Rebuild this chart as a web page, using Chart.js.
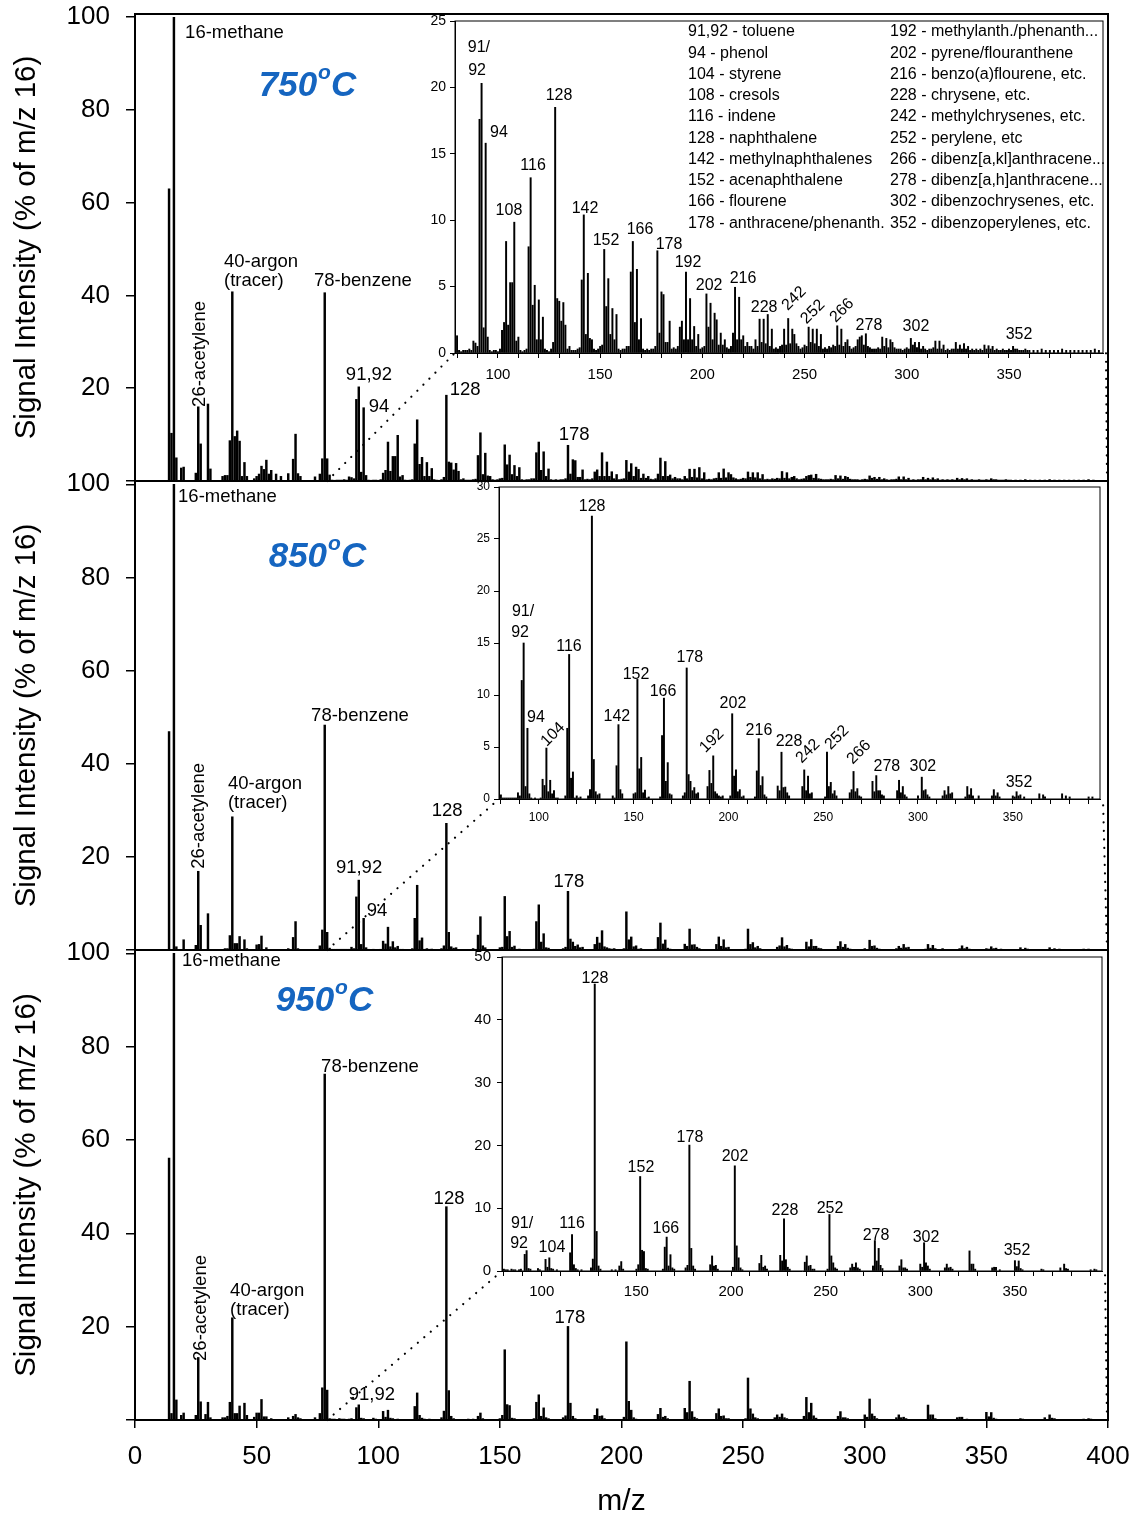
<!DOCTYPE html>
<html>
<head>
<meta charset="utf-8">
<script src="https://cdn.jsdelivr.net/npm/chart.js@4"></script>
<style>
  body { margin: 0; background: #fff; }
  #fig { position: relative; width: 1135px; height: 1521px; overflow: hidden; }
  #fig canvas { position: absolute; }
</style>
</head>
<body>
<div id="fig"></div>
<script>
// spectra: [m/z, intensity as % of m/z 16]
const spec750 = [
  [14,63],[15,10.3],[16,100],[17,5],[19,2.8],[20,3.0],[25,1.7],[26,16],[27,8],[30,16.6],[31,2.6],
  [36,1.0],[37,1.2],[38,1.2],[39,8.7],[40,40.8],[41,9.6],[42,10.8],[43,8.6],[44,1.0],[45,4.0],[46,1.0],
  [49,0.5],[50,1.0],[51,1.5],[52,3.2],[53,2.5],[54,4.5],[55,1.5],[56,2.3],[58,1.5],[60,1.0],
  [63,1.6],[65,4.7],[66,10.1],[67,1.6],[68,1.0],[74,0.9],[76,1.5],[77,4.8],[78,40.6],[79,4.8],[80,1.3],
  [81,0.2],[82,0.1],[83,0.2],[84,0.2],[85,0.2],[86,0.3],[87,0.2],[88,0.9],[89,0.75],[90,0.5],
  [91,17.6],[92,20.3],[93,1.9],[94,15.8],[95,1.2],[96,0.2],[97,0.1],[98,0.2],[99,0.2],[100,0.1],[101,0.3],
  [102,1.7],[103,2.3],[104,8.4],[105,2.1],[106,5.3],[107,5.3],[108,9.85],[109,0.9],[110,1.2],[111,0.2],[112,0.1],[113,0.2],[114,0.3],
  [115,8.0],[116,13.2],[117,3.6],[118,5.1],[119,1.0],[120,4.0],[121,1.0],[122,2.7],[123,0.3],[124,0.2],[125,0.1],[126,0.3],[127,0.8],
  [128,18.5],[129,4.1],[130,3.9],[131,2.4],[132,3.8],[133,2.1],[134,0.3],[135,0.5],[136,0.2],[137,0.2],[138,0.2],[139,0.3],[140,0.4],
  [141,5.5],[142,10.4],[143,1.4],[144,6.0],[145,1.1],[146,1.0],[147,0.3],[148,0.2],[149,0.3],[150,0.5],[151,0.6],
  [152,7.8],[153,3.5],[154,5.6],[155,1.4],[156,3.35],[157,1.0],[158,2.9],[159,0.3],[160,0.2],[161,0.3],[162,0.3],[163,0.5],[164,0.5],
  [165,6.1],[166,8.4],[167,2.3],[168,6.3],[169,1.0],[170,2.6],[171,0.3],[172,0.2],[173,0.3],[174,0.2],[175,0.3],[176,0.3],[177,0.5],
  [178,7.7],[179,1.5],[180,4.6],[181,4.4],[182,0.8],[183,0.8],[184,2.4],[185,0.3],[186,0.4],[187,0.3],[188,0.5],
  [189,1.95],[190,2.4],[191,1.0],[192,6.1],[193,1.0],[194,4.1],[195,1.0],[196,2.0],[197,0.5],[198,1.4],[199,0.3],[200,0.4],[201,0.5],
  [202,4.45],[203,1.95],[204,3.75],[205,1.0],[206,3.0],[207,2.5],[208,0.6],[209,1.5],[210,0.6],[211,1.0],[212,0.4],[213,0.3],[214,0.5],
  [215,1.5],[216,4.95],[217,1.0],[218,4.2],[219,1.0],[220,1.3],[221,0.5],[222,0.8],[223,0.5],[224,0.5],[225,0.3],[226,1.0],[227,0.5],
  [228,2.55],[229,0.8],[230,2.55],[231,0.7],[232,2.9],[233,0.5],[234,1.8],[235,0.3],[236,0.4],[237,0.3],[238,0.5],[239,0.6],
  [240,1.8],[241,0.6],[242,2.6],[243,0.7],[244,1.8],[245,1.4],[246,0.7],[247,0.5],[248,0.3],[249,0.4],[250,0.6],[251,0.5],
  [252,1.95],[253,0.8],[254,1.8],[255,0.7],[256,1.8],[257,0.5],[258,1.4],[259,0.3],[260,0.4],[261,0.3],[262,0.5],[263,0.4],[264,0.6],[265,0.5],
  [266,2.05],[267,0.6],[268,1.8],[269,0.5],[270,0.8],[271,1.0],[272,0.5],[273,0.3],[274,0.4],[275,0.5],
  [276,1.0],[277,1.2],[278,1.3],[279,0.6],[280,1.45],[281,0.5],[282,0.4],[283,0.3],[284,0.3],[285,0.3],[286,0.4],[287,0.3],
  [288,1.2],[289,0.5],[290,1.1],[291,0.4],[292,1.0],[293,0.8],[294,0.4],[295,0.3],[296,0.3],[297,0.3],[298,0.2],[299,0.3],[300,0.4],[301,0.3],
  [302,1.1],[303,0.6],[304,0.8],[305,0.4],[306,0.8],[307,0.3],[308,0.5],[309,0.3],[310,0.2],[311,0.3],[312,0.3],[313,0.4],
  [314,0.9],[315,0.3],[316,0.9],[317,0.3],[318,0.6],[319,0.2],[320,0.3],[321,0.2],[322,0.3],[323,0.3],
  [324,0.8],[325,0.3],[326,0.6],[327,0.3],[328,0.7],[329,0.3],[330,0.5],[331,0.2],[332,0.3],[333,0.2],[334,0.3],[335,0.2],[336,0.3],[337,0.2],
  [338,0.6],[339,0.3],[340,0.55],[341,0.3],[342,0.5],[343,0.2],[344,0.3],[345,0.2],[346,0.2],[347,0.3],[348,0.2],[349,0.2],
  [350,0.3],[351,0.2],[352,0.5],[353,0.3],[354,0.3],[355,0.2],[356,0.2],[357,0.2],[358,0.3],[359,0.2],[360,0.2],[362,0.2],[364,0.2],
  [366,0.3],[368,0.2],[370,0.2],[372,0.2],[374,0.2],[376,0.3],[378,0.2],[380,0.2],[382,0.2],[384,0.2],[386,0.2],[388,0.2],[390,0.2],[392,0.3],[394,0.2]
];

const spec850 = [
  [14,46.9],[16,100],[17,0.7],[20,2.2],[25,1.0],[26,16.9],[27,5.3],[30,7.8],[37,0.3],[38,0.3],
  [39,3.1],[40,28.6],[41,1.4],[42,1.4],[43,2.9],[45,2.2],[46,0.3],[50,1.1],[51,1.2],[52,3.0],[54,0.5],
  [63,0.3],[65,2.7],[66,6.1],[67,0.3],[76,0.9],[77,4.3],[78,48.3],[79,3.8],[80,0.4],
  [81,0.1],[82,0.1],[83,0.1],[84,0.1],[85,0.1],[86,0.1],[87,0.1],[88,0.1],[89,0.6],[90,0.3],
  [91,11.4],[92,15.0],[93,1.2],[94,6.8],[95,0.5],[96,0.1],[98,0.1],[101,0.1],
  [102,1.9],[103,1.3],[104,4.9],[105,0.7],[106,1.8],[107,0.5],[108,0.8],[109,0.1],[110,0.1],
  [114,0.3],[115,6.8],[116,13.9],[117,2.0],[118,2.6],[119,0.1],[120,0.3],[121,0.1],[122,0.2],
  [126,0.3],[127,0.9],[128,27.2],[129,3.8],[130,0.7],[131,0.4],[132,0.5],
  [139,0.3],[140,0.1],[141,3.2],[142,7.15],[143,0.9],[144,0.5],
  [150,0.5],[151,0.6],[152,11.5],[153,2.9],[154,4.0],[155,0.6],[156,0.85],[157,0.1],[158,0.2],
  [164,0.2],[165,6.1],[166,9.7],[167,1.7],[168,3.5],[169,0.5],[170,0.4],
  [176,0.3],[177,0.6],[178,12.6],[179,2.35],[180,1.7],[181,0.8],[182,1.1],[183,0.5],[184,0.6],
  [189,1.2],[190,2.75],[191,1.5],[192,4.15],[193,0.7],[194,0.5],[195,0.3],[196,0.2],[197,0.3],
  [201,0.3],[202,8.2],[203,2.2],[204,2.8],[205,0.7],[206,0.9],[207,0.2],[208,0.3],
  [214,0.2],[215,2.7],[216,5.8],[217,1.3],[218,2.15],[219,0.4],[220,0.2],
  [226,1.25],[227,0.8],[228,4.5],[229,1.1],[230,1.15],[231,0.6],[232,0.3],
  [239,1.2],[240,2.8],[241,0.8],[242,2.2],[243,0.5],[244,0.6],
  [251,0.2],[252,4.5],[253,1.2],[254,1.6],[255,0.5],[256,0.8],[257,0.3],
  [264,0.6],[265,0.9],[266,2.65],[267,0.7],[268,1.0],[269,0.3],[270,0.2],
  [276,1.7],[277,0.7],[278,2.25],[279,0.8],[280,0.8],[281,0.4],[282,0.3],
  [289,0.8],[290,1.8],[291,0.6],[292,1.2],[293,0.4],[294,0.2],
  [300,0.3],[302,2.1],[303,0.8],[304,0.9],[305,0.4],[306,0.2],
  [313,0.3],[314,0.8],[315,0.4],[316,1.2],[317,0.5],[318,0.6],
  [325,0.2],[326,1.2],[327,0.4],[328,1.0],[329,0.3],[332,0.3],
  [339,0.3],[340,0.9],[341,0.3],[342,0.6],[343,0.2],
  [350,0.3],[351,0.2],[352,0.7],[353,0.3],[354,0.4],[356,0.2],
  [364,0.5],[366,0.4],[367,0.2],[376,0.5],[378,0.3],[380,0.2],[390,0.2],[392,0.2]
];

const spec950 = [
  [14,56.1],[15,1.4],[16,100],[17,4.3],[19,1.0],[20,1.5],[25,1.0],[26,13.4],[27,3.9],[29,1.2],[30,3.8],[31,0.5],
  [36,0.5],[37,0.5],[38,0.8],[39,3.8],[40,21.9],[41,1.4],[42,1.4],[43,3.0],[45,3.6],[46,1.0],
  [49,0.6],[50,1.5],[51,1.5],[52,4.4],[53,0.7],[54,0.7],[56,0.3],
  [63,0.5],[65,0.8],[66,1.2],[67,0.5],[68,0.3],[74,0.5],[76,1.4],[77,6.9],[78,74.1],[79,6.4],[80,0.3],
  [81,0.2],[82,0.2],[84,0.3],[85,0.2],[86,0.2],[88,0.2],[89,0.3],
  [91,2.65],[92,3.25],[93,0.4],[94,0.3],[98,0.4],[99,0.2],
  [102,1.85],[103,0.6],[104,2.1],[105,0.4],[106,0.3],[108,0.2],
  [115,2.9],[116,5.8],[117,1.0],[118,0.4],[119,0.2],[121,0.2],
  [126,0.5],[127,1.9],[128,45.7],[129,6.3],[130,0.8],[131,0.3],
  [137,0.2],[139,0.2],[141,0.8],[142,1.5],[143,0.3],
  [150,0.3],[151,1.0],[152,15.05],[153,3.3],[154,3.1],[155,0.4],[156,0.3],
  [164,0.3],[165,3.8],[166,5.4],[167,0.8],[168,2.6],[169,0.5],[170,0.3],
  [176,0.5],[177,0.9],[178,20.05],[179,3.6],[180,0.8],[181,0.3],
  [189,1.0],[190,2.4],[191,0.8],[192,0.9],[193,0.3],
  [201,0.6],[202,16.75],[203,4.0],[204,2.1],[205,0.5],[206,0.2],
  [215,1.2],[216,2.5],[217,0.6],[218,0.8],[219,0.3],
  [226,2.5],[227,1.6],[228,8.3],[229,1.8],[230,0.6],[231,0.3],
  [239,1.4],[240,2.4],[241,0.8],[242,0.9],[243,0.3],[244,0.3],
  [251,0.3],[252,9.0],[253,2.4],[254,1.3],[255,0.5],[256,0.3],
  [263,0.5],[264,1.1],[265,0.6],[266,1.3],[267,0.5],[268,0.3],
  [275,0.8],[276,4.85],[277,1.6],[278,3.6],[279,0.9],[280,0.4],
  [289,0.8],[290,1.8],[291,0.5],[292,0.5],[293,0.3],
  [300,1.1],[301,0.6],[302,4.5],[303,1.3],[304,0.8],[305,0.3],
  [313,0.5],[314,1.1],[315,0.5],[316,0.6],[317,0.3],
  [326,3.2],[327,1.1],[328,1.1],[329,0.3],
  [338,0.5],[339,0.6],[340,0.6],[342,0.2],
  [350,1.65],[351,0.7],[352,1.6],[353,0.4],[354,0.2],
  [364,0.3],[365,0.2],[374,0.5],[376,1.1],[377,0.4],[378,0.3],[390,0.2],[392,0.3],[393,0.2]
];

const zoomRange = [79, 396];
const mainTicks = [0, 50, 100, 150, 200, 250, 300, 350, 400];

// labels: [text, m/z, value, align, rotation]
const main750Labels = [
  ['16-methane', 20.6, 96.7, 'left'], ['26-acetylene', 26.7, 27.4, 'center', -90],
  ['40-argon', 36.6, 47.2, 'left'], ['(tracer)', 36.6, 43.1, 'left'], ['78-benzene', 73.6, 43.1, 'left'],
  ['91,92', 96.2, 22.9], ['94', 100.3, 16.0], ['128', 135.7, 19.6], ['178', 180.5, 9.9]
];
const main850Labels = [
  ['16-methane', 17.7, 97.3, 'left'], ['26-acetylene', 26.3, 28.8, 'center', -90],
  ['40-argon', 38.2, 35.7, 'left'], ['(tracer)', 38.2, 31.6, 'left'], ['78-benzene', 72.4, 50.3, 'left'],
  ['91,92', 92.1, 17.6], ['94', 99.5, 8.4], ['128', 128.3, 29.9], ['178', 178.4, 14.6]
];
const main950Labels = [
  ['16-methane', 19.3, 98.3, 'left'], ['26-acetylene', 27.1, 24.0, 'center', -90],
  ['40-argon', 39.1, 27.6, 'left'], ['(tracer)', 39.1, 23.6, 'left'], ['78-benzene', 76.5, 75.6, 'left'],
  ['91,92', 97.4, 5.4], ['128', 129.1, 47.3], ['178', 178.8, 21.8]
];
const inset750Labels = [
  ['91/', 90.7, 23.0], ['92', 89.8, 21.3], ['94', 100.5, 16.6], ['108', 105.4, 10.7], ['116', 117.2, 14.1],
  ['128', 129.9, 19.4], ['142', 142.6, 10.9], ['152', 152.9, 8.5], ['166', 169.5, 9.3], ['178', 183.7, 8.2],
  ['192', 193.0, 6.8], ['202', 203.3, 5.1], ['216', 219.9, 5.6], ['228', 230.2, 3.4],
  ['242', 244.9, 4.1, 'center', -45], ['252', 254.1, 3.1, 'center', -45], ['266', 268.3, 3.2, 'center', -45],
  ['278', 281.5, 2.1], ['302', 304.5, 2.0], ['352', 354.9, 1.4]
];
const inset850Labels = [
  ['91/', 91.7, 18.0], ['92', 90.1, 16.0], ['94', 98.5, 7.8], ['104', 107.5, 6.2, 'center', -45], ['116', 115.9, 14.7],
  ['128', 128.1, 28.1], ['142', 141.2, 7.9], ['152', 151.3, 12.0], ['166', 165.5, 10.3], ['178', 179.7, 13.6],
  ['192', 191.3, 5.6, 'center', -45], ['202', 202.4, 9.2], ['216', 216.1, 6.6], ['228', 232.0, 5.5],
  ['242', 242.0, 4.6, 'center', -45], ['252', 257.3, 5.9, 'center', -45], ['266', 268.9, 4.5, 'center', -45],
  ['278', 283.6, 3.1], ['302', 302.6, 3.1], ['352', 353.3, 1.6]
];
const inset950Labels = [
  ['91/', 89.6, 7.6], ['92', 88.0, 4.3], ['104', 105.4, 3.7], ['116', 116.0, 7.5], ['128', 128.1, 46.5],
  ['152', 152.4, 16.4], ['166', 165.6, 6.7], ['178', 178.3, 21.3], ['202', 202.1, 18.2], ['228', 228.5, 9.6],
  ['252', 252.3, 9.9], ['278', 276.6, 5.7], ['302', 303.0, 5.3], ['352', 351.1, 3.3]
];
const legendLeft = [
  '91,92 - toluene', '94 - phenol', '104 - styrene', '108 - cresols', '116 - indene',
  '128 - naphthalene', '142 - methylnaphthalenes', '152 - acenaphthalene', '166 - flourene',
  '178 - anthracene/phenanth.'
];
const legendRight = [
  '192 - methylanth./phenanth...', '202 - pyrene/flouranthene', '216 - benzo(a)flourene, etc.',
  '228 - chrysene, etc.', '242 - methylchrysenes, etc.', '252 - perylene, etc',
  '266 - dibenz[a,kl]anthracene...', '278 - dibenz[a,h]anthracene...', '302 - dibenzochrysenes, etc.',
  '352 - dibenzoperylenes, etc.'
];

const FONT = '"Liberation Sans", Arial, Helvetica, sans-serif';
const fig = document.getElementById('fig');

function addCanvas(left, top, w, h, z) {
  const c = document.createElement('canvas');
  c.width = w; c.height = h;
  c.style.left = left + 'px'; c.style.top = top + 'px';
  c.style.width = w + 'px'; c.style.height = h + 'px';
  c.style.zIndex = z;
  fig.appendChild(c);
  return c;
}

function xy(spec) {
  return spec.map(d => ({ x: d[0], y: d[1] }));
}

function drawText(ctx, t, x, y, size, align, rot) {
  ctx.save();
  ctx.font = size + 'px ' + FONT;
  ctx.fillStyle = '#000';
  ctx.textBaseline = 'middle';
  ctx.textAlign = align || 'center';
  ctx.translate(x, y);
  if (rot) ctx.rotate(rot * Math.PI / 180);
  ctx.fillText(t, 0, 0);
  ctx.restore();
}

function drawLabels(ch, list, size) {
  const { x, y } = ch.scales;
  list.forEach(l => drawText(ch.ctx, l[0], x.getPixelForValue(l[1]), y.getPixelForValue(l[2]), size, l[3], l[4]));
}

function drawTemp(ctx, x, y, t) {
  const big = 'italic bold 35px ' + FONT, small = 'italic bold 21px ' + FONT;
  ctx.save();
  ctx.fillStyle = '#1565c0';
  ctx.textBaseline = 'middle';
  ctx.textAlign = 'left';
  ctx.font = big;
  const w1 = ctx.measureText(t).width, w3 = ctx.measureText('C').width;
  ctx.font = small;
  const w2 = ctx.measureText('o').width;
  const sx = x - (w1 + w2 + w3 + 2) / 2;
  ctx.font = big; ctx.fillText(t, sx, y);
  ctx.font = small; ctx.fillText('o', sx + w1 + 1, y - 13);
  ctx.font = big; ctx.fillText('C', sx + w1 + w2 + 1, y);
  ctx.restore();
}

function insetChart(p) {
  const L = 40, T = 24, R = 24, B = 34;
  const b = p.box;
  const cv = addCanvas(b[0] - L, b[1] - T, b[2] - b[0] + L + R, b[3] - b[1] + T + B, 2);
  return new Chart(cv, {
    type: 'bar',
    data: { datasets: [{ data: xy(p.spec), backgroundColor: '#000', barThickness: 1.3 }] },
    options: {
      responsive: false, animation: false, devicePixelRatio: 1,
      layout: { padding: { top: T, right: R, bottom: 0, left: 0 } },
      plugins: { legend: { display: false }, tooltip: { enabled: false } },
      scales: {
        x: {
          type: 'linear', min: zoomRange[0], max: zoomRange[1], offset: false,
          grid: { drawOnChartArea: false, offset: false, tickLength: 5, color: '#000' },
          border: { color: '#000', width: 1 },
          ticks: {
            stepSize: 10, includeBounds: false, autoSkip: false, maxRotation: 0,
            padding: p.xPad, color: '#000', font: { family: FONT, size: p.xFont },
            callback: v => (v % 50 === 0 ? v : '')
          },
          afterFit: s => { s.height = B; }
        },
        y: {
          min: 0, max: p.ymax,
          grid: { drawOnChartArea: false, tickLength: 5, color: '#000' },
          border: { color: '#000', width: 1 },
          ticks: { stepSize: p.ystep, padding: p.yPad, color: '#000', font: { family: FONT, size: p.yFont } },
          afterFit: s => { s.width = L; }
        }
      }
    },
    plugins: [{
      id: 'insetDeco',
      beforeDraw(ch) {
        const ca = ch.chartArea;
        ch.ctx.save();
        ch.ctx.fillStyle = '#fff';
        ch.ctx.fillRect(ca.left, ca.top, ca.right - ca.left, ca.bottom - ca.top);
        ch.ctx.restore();
      },
      afterDraw(ch) {
        const ca = ch.chartArea, ctx = ch.ctx;
        ctx.save();
        ctx.strokeStyle = '#000'; ctx.lineWidth = 1;
        ctx.strokeRect(ca.left, ca.top, ca.right - ca.left, ca.bottom - ca.top);
        ctx.restore();
        drawLabels(ch, p.labels, 16);
        if (p.legend) {
          const { x, y } = ch.scales;
          legendLeft.forEach((t, i) => drawText(ctx, t, x.getPixelForValue(193), y.getPixelForValue(24.17 - i * 1.6), 16, 'left'));
          legendRight.forEach((t, i) => drawText(ctx, t, x.getPixelForValue(291.8), y.getPixelForValue(24.17 - i * 1.6), 16, 'left'));
        }
      }
    }]
  });
}

function mainChart(p, inset) {
  const PT = 40, PB = p.last ? 1 : 40, XH = 100, W = 1200, PR = W - 1108;
  const top = p.area[0] - PT;
  const h = p.area[1] + (p.last ? XH + PB : PB) - top;
  const cv = addCanvas(0, top, W, h, 1);
  return new Chart(cv, {
    type: 'bar',
    data: { datasets: [{ data: xy(p.spec), backgroundColor: '#000', barThickness: 1.8 }] },
    options: {
      responsive: false, animation: false, devicePixelRatio: 1,
      layout: { padding: { top: PT, right: PR, bottom: PB, left: 0 } },
      plugins: { legend: { display: false }, tooltip: { enabled: false } },
      scales: {
        x: {
          type: 'linear', min: 0, max: 400, offset: false, display: !!p.last,
          grid: { drawOnChartArea: false, offset: false, tickLength: 8, color: '#000', lineWidth: 1.5 },
          border: { color: '#000', width: 2 },
          afterBuildTicks: s => { s.ticks = mainTicks.map(v => ({ value: v })); },
          ticks: { autoSkip: false, maxRotation: 0, padding: 13, color: '#000', font: { family: FONT, size: 26 } },
          title: { display: true, text: 'm/z', color: '#000', font: { family: FONT, size: 30 }, padding: { top: 0, bottom: 0 } },
          afterFit: s => { if (p.last) s.height = XH; }
        },
        y: {
          min: 0, max: 100.7,
          grid: { drawOnChartArea: false, tickLength: 9, color: '#000', lineWidth: 1.5 },
          border: { color: '#000', width: 2 },
          ticks: {
            stepSize: 20, includeBounds: false, padding: 16, color: '#000',
            font: { family: FONT, size: 26 },
            callback: v => (v === 0 ? '' : v)
          },
          title: {
            display: true, text: 'Signal Intensity (% of m/z 16)', color: '#000',
            font: { family: FONT, size: 29.5 }, padding: { top: 9, bottom: 0 }
          },
          afterFit: s => { s.width = 135; }
        }
      }
    },
    plugins: [{
      id: 'mainDeco',
      afterDatasetsDraw(ch) {
        const ctx = ch.ctx, ca = ch.chartArea, { x, y } = ch.scales;
        ctx.save();
        ctx.strokeStyle = '#000'; ctx.lineWidth = 2;
        ctx.strokeRect(ca.left, ca.top, ca.right - ca.left, ca.bottom - ca.top);
        ctx.restore();
        drawLabels(ch, p.labels, 18.5);
        drawTemp(ctx, x.getPixelForValue(p.tempAt[0]), y.getPixelForValue(p.tempAt[1]), p.temp);
        // dotted connectors to the inset box
        const ox = inset.canvas.offsetLeft - ch.canvas.offsetLeft;
        const oy = inset.canvas.offsetTop - ch.canvas.offsetTop;
        const ix = inset.scales.x, iy = inset.scales.y;
        ctx.save();
        ctx.strokeStyle = '#000'; ctx.lineWidth = 2.2; ctx.lineCap = 'round';
        ctx.setLineDash([0.01, 8.5]);
        ctx.beginPath();
        ctx.moveTo(x.getPixelForValue(zoomRange[0]), y.getPixelForValue(0));
        ctx.lineTo(ox + ix.getPixelForValue(zoomRange[0]), oy + iy.getPixelForValue(0));
        ctx.moveTo(x.getPixelForValue(400) - 1, y.getPixelForValue(0));
        ctx.lineTo(ox + ix.getPixelForValue(zoomRange[1]) + 3, oy + iy.getPixelForValue(0));
        ctx.stroke();
        ctx.restore();
      }
    }]
  });
}

const panels = [
  { temp: '750', spec: spec750, area: [14, 481], labels: main750Labels, tempAt: [71.1, 85.2],
    inset: { spec: spec750, box: [455, 21, 1103, 353], ymax: 25, ystep: 5, yFont: 14, yPad: 4, xFont: 15, xPad: 8,
             labels: inset750Labels, legend: true } },
  { temp: '850', spec: spec850, area: [481, 950], labels: main850Labels, tempAt: [75.2, 84.4],
    inset: { spec: spec850, box: [499, 487, 1100, 799], ymax: 30, ystep: 5, yFont: 12, yPad: 4, xFont: 12, xPad: 6,
             labels: inset850Labels } },
  { temp: '950', spec: spec950, area: [950, 1420], labels: main950Labels, tempAt: [78.1, 89.7], last: true,
    inset: { spec: spec950, box: [502, 957, 1102, 1271], ymax: 50, ystep: 10, yFont: 15, yPad: 6, xFont: 15, xPad: 7,
             labels: inset950Labels } }
];

panels.forEach(p => {
  const ins = insetChart(p.inset);
  mainChart(p, ins);
});
</script>
</body>
</html>
